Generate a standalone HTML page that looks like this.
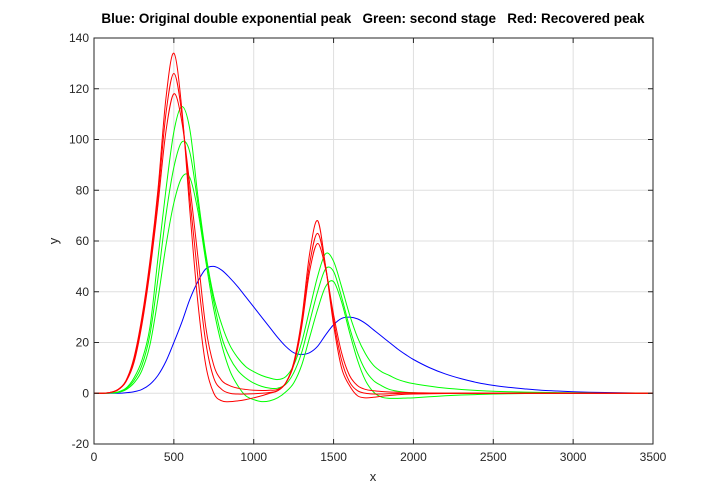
<!DOCTYPE html>
<html><head><meta charset="utf-8"><style>
body{margin:0;background:#fff;}
svg{display:block;font-family:"Liberation Sans",Arial,sans-serif;}
</style></head><body>
<svg id="chart" width="721" height="498">
<rect width="721" height="498" fill="#fff"/>
<g id="grid"></g>
<g id="series"></g>
<rect x="94" y="38" width="559" height="406" fill="none" stroke="#262626" stroke-width="1"/>
<g id="ticks"></g>
<text x="373" y="23" text-anchor="middle" font-size="13.5" font-weight="bold" fill="#000">Blue: Original double exponential peak&#160;&#160;&#160;Green: second stage&#160;&#160;&#160;Red: Recovered peak</text>
<text x="373" y="481" text-anchor="middle" font-size="13" fill="#262626">x</text>
<text x="58" y="241" text-anchor="middle" font-size="13" fill="#262626" transform="rotate(-90 58 241)">y</text>
</svg>
<script>
const xTicks=[0,500,1000,1500,2000,2500,3000,3500];
const yTicks=[-20,0,20,40,60,80,100,120,140];
const xs=[0,50,100,150,200,250,300,350,400,450,500,550,600,650,700,750,800,850,900,950,1000,1050,1100,1150,1200,1250,1300,1350,1400,1450,1500,1550,1600,1650,1700,1750,1800,1850,1900,1950,2000,2100,2200,2300,2400,2500,2600,2700,2800,2900,3000,3100,3200,3300,3400,3500];
const blue=[0,0,0,0,0.2,0.6,1.5,3.5,7,12.5,20,28,37,44,49,50,48.5,45.5,42,38,34,30,26,22,18.5,16,15.3,16,18.5,23,27,29.5,30,29.3,27.5,25,22.5,20,17.5,15.3,13.3,10.1,7.6,5.7,4.2,3.1,2.3,1.7,1.2,0.9,0.6,0.4,0.3,0.2,0.1,0.1];
const red1=[0,0,0.3,1.5,5,14,30,52,80,116,134,112,72,36,11,0,-3,-3.3,-3,-2.5,-1.8,-1,0,1,4,12,29,55,68,50,27,10,3,-1,-1.8,-1.6,-1.2,-0.9,-0.6,-0.4,-0.3,-0.2,-0.1,0,0,0,0,0,0,0,0,0,0,0,0,0];
const red2=[0,0,0.3,1.4,4.8,13,28.5,50,77,110,126,110,77,46,20,6,1.5,0,-0.3,-0.3,-0.2,0,0.3,1,4,11.5,27,51,63,50,29,13,4.5,1,0,-0.3,-0.3,-0.2,-0.1,0,0,0,0,0,0,0,0,0,0,0,0,0,0,0,0,0];
const red3=[0,0,0.3,1.3,4.5,12,27,48,74,103,118,107,82,54,26,11,5,3,2,1.5,1.2,1.1,1.2,1.5,4,11,26,48,59,49,31,16,7,3,1.5,1,0.7,0.5,0.4,0.3,0.2,0.1,0,0,0,0,0,0,0,0,0,0,0,0,0,0];
const green1=[0,0,0.1,0.5,2,6,13,26,53,80,103,113,104,78,55,38,27,19,14,10.5,8.5,7,6,5.4,6.5,11,20,33,46,55,52,42,31,22,15.5,11,8.5,7,5.5,4.5,3.8,2.8,2,1.5,1.1,0.8,0.6,0.45,0.35,0.25,0.2,0.15,0.1,0.1,0.05,0];
const green2=[0,0,0.1,0.4,1.7,5,11,23,45,70,89,99,95,75,54,36,22,14,9,6,4,2.7,2,2,3.5,8,16,28,40,49,48,38,26,16,9,5,3,1.5,0.8,0.4,0.2,0,0,0,0,0,0,0,0,0,0,0,0,0,0,0];
const green3=[0,0,0.1,0.3,1.4,4,9,19,37,58,75,85,85,72,52,33,19,9,3,-1,-2.5,-3.3,-3,-1.8,0.5,4,11,22,33,42,44,36,24,13,5,0.5,-1.5,-2,-2,-1.9,-1.8,-1.4,-1,-0.7,-0.5,-0.3,-0.2,-0.1,0,0,0,0,0,0,0,0];
const seriesList=[
 {name:'blue-original-peak',data:blue,color:'#0000ff'},
 {name:'green-stage-1',data:green1,color:'#00ff00'},
 {name:'green-stage-2',data:green2,color:'#00ff00'},
 {name:'green-stage-3',data:green3,color:'#00ff00'},
 {name:'red-recovered-1',data:red1,color:'#ff0000'},
 {name:'red-recovered-2',data:red2,color:'#ff0000'},
 {name:'red-recovered-3',data:red3,color:'#ff0000'}
];
const X0=94,X1=653,Y0=444,Y1=38;
const sx=v=>X0+(v-0)/(3500-0)*(X1-X0);
const sy=v=>Y0-(v-(-20))/(140-(-20))*(Y0-Y1);
const NS='http://www.w3.org/2000/svg';
const grid=document.getElementById('grid'),ticks=document.getElementById('ticks'),sg=document.getElementById('series');
function mk(tag,attrs,parent){const e=document.createElementNS(NS,tag);for(const k in attrs)e.setAttribute(k,attrs[k]);parent.appendChild(e);return e;}
xTicks.forEach(t=>{
 const x=sx(t);
 const g=mk('line',{x1:x,x2:x,y1:Y1,y2:Y0,stroke:'#dfdfdf','stroke-width':1},grid);
 
 
 const tk=mk('line',{x1:x,x2:x,y1:Y0,y2:Y0-5,stroke:'#262626'},ticks);
 
 
 const tk2=mk('line',{x1:x,x2:x,y1:Y1,y2:Y1+5,stroke:'#262626'},ticks);
 
 
 const lb=mk('text',{x:x,y:Y0+17,'text-anchor':'middle','font-size':12,fill:'#262626'},ticks);
 lb.textContent=t;
 
 
});
yTicks.forEach(t=>{
 const y=sy(t);
 const g=mk('line',{x1:X0,x2:X1,y1:y,y2:y,stroke:'#dfdfdf','stroke-width':1},grid);
 
 
 const tk=mk('line',{x1:X0,x2:X0+5,y1:y,y2:y,stroke:'#262626'},ticks);
 
 
 const tk2=mk('line',{x1:X1,x2:X1-5,y1:y,y2:y,stroke:'#262626'},ticks);
 
 
 const lb=mk('text',{x:X0-5,y:y+4,'text-anchor':'end','font-size':12,fill:'#262626'},ticks);
 lb.textContent=t;
 
 
});
function pathFor(data){
 const n=Math.min(xs.length,data.length);
 const p=[];
 for(let i=0;i<n;i++)p.push([sx(xs[i]),sy(data[i])]);
 let d='M'+p[0][0].toFixed(2)+','+p[0][1].toFixed(2);
 for(let i=0;i<p.length-1;i++){
  const a=p[Math.max(0,i-1)],b=p[i],c=p[i+1],e=p[Math.min(p.length-1,i+2)];
  const c1x=b[0]+(c[0]-a[0])/6,c1y=b[1]+(c[1]-a[1])/6;
  const c2x=c[0]-(e[0]-b[0])/6,c2y=c[1]-(e[1]-b[1])/6;
  d+=' C'+c1x.toFixed(2)+','+c1y.toFixed(2)+' '+c2x.toFixed(2)+','+c2y.toFixed(2)+' '+c[0].toFixed(2)+','+c[1].toFixed(2);
 }
 return d;
}
seriesList.forEach(s=>{
 const el=mk('path',{d:pathFor(s.data),fill:'none',stroke:s.color,'stroke-width':1},sg);
 
 
});
</script>
</body></html>
